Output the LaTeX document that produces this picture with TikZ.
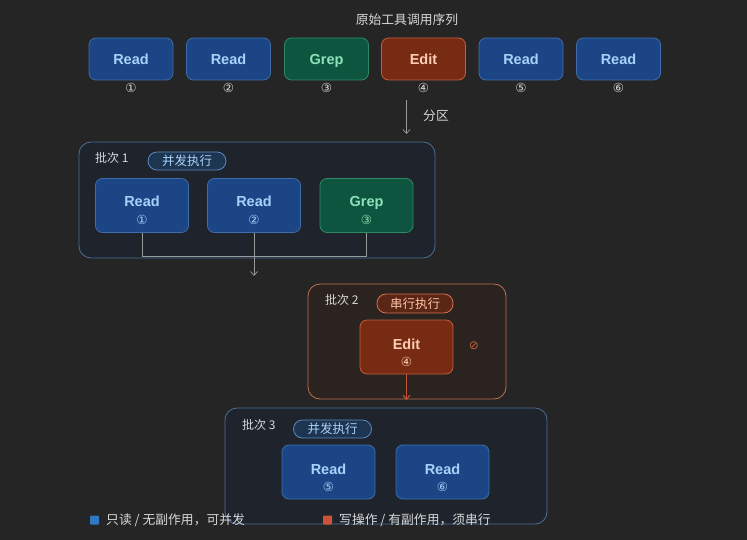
\documentclass[tikz,border=0pt]{standalone}
\usepackage{fontspec}
\setmainfont{Noto Sans CJK SC}
\newfontfamily\symfont{DejaVu Sans}
\newfontfamily\latfont{Liberation Sans}
\usetikzlibrary{arrows.meta}
\definecolor{bg}{HTML}{252525}
\definecolor{bluefill}{HTML}{1B4585}
\definecolor{blueline}{HTML}{3F6DAA}
\definecolor{bluetext}{HTML}{A9D2FA}
\definecolor{greenfill}{HTML}{0E5540}
\definecolor{greenline}{HTML}{2E8A63}
\definecolor{greentext}{HTML}{8EE2B9}
\definecolor{redfill}{HTML}{772B12}
\definecolor{redline}{HTML}{C0603F}
\definecolor{redtext}{HTML}{FFCDB5}
\definecolor{frameA}{HTML}{1F242C}
\definecolor{frameAline}{HTML}{4B6E98}
\definecolor{frameB}{HTML}{2A2320}
\definecolor{frameBline}{HTML}{C0704F}
\definecolor{pillA}{HTML}{1E3552}
\definecolor{pillAline}{HTML}{5A88BE}
\definecolor{pillB}{HTML}{5A2716}
\definecolor{pillBline}{HTML}{D0724F}
\definecolor{pillBtext}{HTML}{FFC3A6}
\definecolor{greytext}{HTML}{D8D8D8}
\definecolor{arrowgrey}{HTML}{9A9A9A}
\definecolor{legblue}{HTML}{2F78C4}
\definecolor{legred}{HTML}{C8553A}
\begin{document}
\begin{tikzpicture}[x=1pt,y=-1pt,
  box/.style={rounded corners=7pt, line width=0.8pt, inner sep=0pt},
  rbox/.style={box, fill=bluefill, draw=blueline},
  gbox/.style={box, fill=greenfill, draw=greenline},
  ebox/.style={box, fill=redfill, draw=redline},
  top/.style={minimum width=84pt, minimum height=42pt},
  inn/.style={minimum width=93pt, minimum height=54pt},
  lab/.style={font=\latfont\bfseries\fontsize{14.5}{15}\selectfont, inner sep=0pt, anchor=base},
  num/.style={font=\symfont\fontsize{12.5}{13}\selectfont, inner sep=0pt},
  frame/.style={rounded corners=12pt, line width=0.8pt, inner sep=0pt},
  pillA/.style={rounded corners=9pt, fill=pillA, draw=pillAline, line width=0.8pt, text=bluetext, font=\fontsize{12.5}{13}\selectfont, minimum width=78pt, minimum height=18pt, inner sep=0pt},
  pillB/.style={rounded corners=9pt, fill=pillB, draw=pillBline, line width=0.8pt, text=pillBtext, font=\fontsize{12.5}{13}\selectfont, minimum width=76pt, minimum height=19pt, inner sep=0pt},
  blabel/.style={text=greytext, font=\fontsize{12}{12}\selectfont, inner sep=0pt, anchor=west},
  txt/.style={text=greytext, font=\fontsize{12.8}{13}\selectfont, inner sep=0pt},
  conn/.style={draw=arrowgrey, line width=0.7pt},
]
\fill[bg] (0,0) rectangle (747,540);
\useasboundingbox (0,0) rectangle (747,540);

% title
\node[txt] (title) at (407,20) {原始工具调用序列};

% top sequence
\node[rbox, top] (t1) at (131,59) {}; \node[lab, text=bluetext] (t1l) at ([yshift=-6pt]t1.center) {Read};
\node[rbox, top] (t2) at (228.5,59) {}; \node[lab, text=bluetext] (t2l) at ([yshift=-6pt]t2.center) {Read};
\node[gbox, top] (t3) at (326.5,59) {}; \node[lab, text=greentext] (t3l) at ([yshift=-6pt]t3.center) {Grep};
\node[ebox, top] (t4) at (423.5,59) {}; \node[lab, text=redtext] (t4l) at ([yshift=-6pt]t4.center) {Edit};
\node[rbox, top] (t5) at (521,59) {}; \node[lab, text=bluetext] (t5l) at ([yshift=-6pt]t5.center) {Read};
\node[rbox, top] (t6) at (618.5,59) {}; \node[lab, text=bluetext] (t6l) at ([yshift=-6pt]t6.center) {Read};
\foreach \i/\c in {1/①,2/②,3/③,4/④,5/⑤,6/⑥}{
  \node[num, text=greytext] (n\i) at ([yshift=-29pt]t\i.center) {\c};
}

% partition arrow
\coordinate (pa) at (406.5,100);
\coordinate (pb) at (406.5,134);
\draw[conn, -{Straight Barb[length=4pt,width=7pt]}] (pa) -- (pb);
\node[txt] (part) at (436,116) {分区};

% batch 1
\node[frame, fill=frameA, draw=frameAline, minimum width=356pt, minimum height=116pt] (b1) at (257,200) {};
\node[blabel] (b1l) at (95,158) {批次 1};
\node[pillA] (p1) at (187,161) {并发执行};
\node[rbox, inn] (r1) at (142,205.5) {};
\node[lab, text=bluetext] (r1l) at (142,207) {Read};
\node[num, text=bluetext] (r1n) at (142,220) {①};
\node[rbox, inn] (r2) at (254,205.5) {};
\node[lab, text=bluetext] (r2l) at (254,207) {Read};
\node[num, text=bluetext] (r2n) at (254,220) {②};
\node[gbox, inn] (g3) at (366.5,205.5) {};
\node[lab, text=greentext] (g3l) at (366.5,207) {Grep};
\node[num, text=greentext] (g3n) at (366.5,220) {③};
\coordinate (j1) at (142,256);
\coordinate (j3) at (366.5,256);
\coordinate (a1) at (254,276);
\draw[conn] (r1.south) -- (j1) -- (j3) -- (g3.south);
\draw[conn, -{Straight Barb[length=4pt,width=7pt]}] (r2.south) -- (a1);

% batch 2
\node[frame, fill=frameB, draw=frameBline, minimum width=198pt, minimum height=115pt] (b2) at (407,341.5) {};
\node[blabel] (b2l) at (325,300) {批次 2};
\node[pillB] (p2) at (415,303.5) {串行执行};
\node[ebox, inn] (e4) at (406.5,347) {};
\node[lab, text=redtext] (e4l) at (406.5,349) {Edit};
\node[num, text=redtext] (e4n) at (406.5,362) {④};
\node[text=redline, font=\symfont\fontsize{12}{12}\selectfont, inner sep=0pt] (stop) at (474,346) {⊘};

% batch 3
\node[frame, fill=frameA, draw=frameAline, minimum width=322pt, minimum height=116pt] (b3) at (386,466) {};
\node[blabel] (b3l) at (242,425) {批次 3};
\node[pillA] (p3) at (332.5,429) {并发执行};
\node[rbox, inn] (r5) at (328.5,472) {};
\node[lab, text=bluetext] (r5l) at (328.5,474) {Read};
\node[num, text=bluetext] (r5n) at (328.5,487) {⑤};
\node[rbox, inn] (r6) at (442.5,472) {};
\node[lab, text=bluetext] (r6l) at (442.5,474) {Read};
\node[num, text=bluetext] (r6n) at (442.5,487) {⑥};

\coordinate (a2) at (406.5,400);
\draw[draw=legred, line width=1pt, -{Straight Barb[length=4pt,width=7pt]}] (e4.south) -- (a2);

% legend
\node[fill=legblue, minimum size=9pt, inner sep=0pt, rounded corners=1pt] (lg1) at (94.5,520) {};
\node[txt, anchor=west] (lg1t) at (106,520) {只读 / 无副作用，可并发};
\node[fill=legred, minimum size=9pt, inner sep=0pt, rounded corners=1pt] (lg2) at (327.5,520) {};
\node[txt, anchor=west] (lg2t) at (339,520) {写操作 / 有副作用，须串行};
\end{tikzpicture}
\end{document}
